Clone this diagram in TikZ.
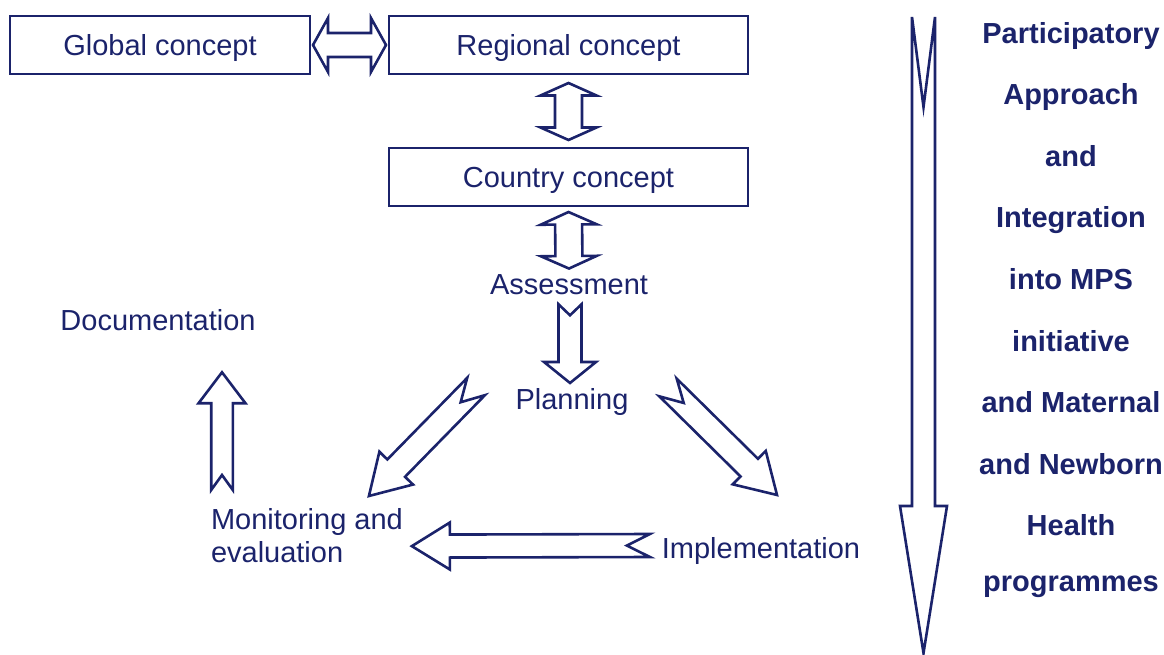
\documentclass[tikz,border=0pt]{standalone}
\usepackage{fontspec}
\setmainfont{Liberation Sans}
\usepackage{tikz}
\usetikzlibrary{calc,positioning}
\definecolor{navy}{RGB}{27,35,107}
\tikzset{concept/.style={draw=navy,text=navy,line width=2.6pt,minimum height=58pt,text depth=0pt,inner sep=0pt,outer sep=0pt}}
\tikzset{stage/.style={text=navy,inner sep=0pt,outer sep=0pt}}
% block arrow: shaft half width, head half width, head length, notch depth
\tikzset{fat/.style n args={4}{draw=navy,line width=2.6pt,line join=miter,
  to path={let \p1=(\tikztostart),\p2=(\tikztotarget),
    \n1={atan2(\y2-\y1,\x2-\x1)},\n2={veclen(\x2-\x1,\y2-\y1)} in
    ($(\p1)+(\n1+90:#1pt)$) -- ($(\p1)+(\n1:#4pt)$) -- ($(\p1)+(\n1-90:#1pt)$)
    -- ($(\p1)+(\n1:\n2-#3pt)+(\n1-90:#1pt)$) -- ($(\p1)+(\n1:\n2-#3pt)+(\n1-90:#2pt)$)
    -- (\p2) -- ($(\p1)+(\n1:\n2-#3pt)+(\n1+90:#2pt)$)
    -- ($(\p1)+(\n1:\n2-#3pt)+(\n1+90:#1pt)$) -- cycle}}}
% double headed block arrow: shaft half width, head half width, head length
\tikzset{twoway/.style n args={3}{draw=navy,line width=2.6pt,line join=miter,
  to path={let \p1=(\tikztostart),\p2=(\tikztotarget),
    \n1={atan2(\y2-\y1,\x2-\x1)},\n2={veclen(\x2-\x1,\y2-\y1)} in
    (\p1) -- ($(\p1)+(\n1:#3pt)+(\n1+90:#2pt)$) -- ($(\p1)+(\n1:#3pt)+(\n1+90:#1pt)$)
    -- ($(\p1)+(\n1:\n2-#3pt)+(\n1+90:#1pt)$) -- ($(\p1)+(\n1:\n2-#3pt)+(\n1+90:#2pt)$)
    -- (\p2) -- ($(\p1)+(\n1:\n2-#3pt)+(\n1-90:#2pt)$) -- ($(\p1)+(\n1:\n2-#3pt)+(\n1-90:#1pt)$)
    -- ($(\p1)+(\n1:#3pt)+(\n1-90:#1pt)$) -- ($(\p1)+(\n1:#3pt)+(\n1-90:#2pt)$) -- cycle}}}

\begin{document}
\begin{tikzpicture}[x=1pt,y=-1pt,font=\fontsize{29}{33}\selectfont]
    \useasboundingbox (0,0) rectangle (1164,655);
    % concept boxes
    \node[concept,minimum width=300pt] (global) at (160,45) {Global concept};
    \node[concept,minimum width=359pt,right=79pt of global] (regional) {Regional concept};
    \node[concept,minimum width=359pt,below=74pt of regional] (country) {Country concept};
        \draw[twoway={12}{27}{15}] ([xshift=3pt]global.east) to ([xshift=-3pt]regional.west);
        \draw[twoway={13.5}{28}{12.5}] ([yshift=-9pt]regional.south) to ([yshift=8pt]country.north);
    % cycle
    \node[stage,anchor=base] (assessment) at (569,294.5) {Assessment};
    \node[stage,anchor=base] (planning) at (572,409) {Planning};
    \node[stage,anchor=base] (implementation) at (761,558) {Implementation};
    \node[stage,anchor=north west,align=left] (monitoring) at (211,508) {Monitoring and\\evaluation};
    \node[stage,anchor=base] (documentation) at (158,330.5) {Documentation};
        \draw[twoway={13.5}{28}{12.5}] ([yshift=-6pt]country.south) to ([yshift=6pt]assessment.north);
        \draw[fat={11.5}{26}{21}{11}] ([shift={(1,9.5)}]assessment.south) to ([shift={(-2,-5)}]planning.north);
        \draw[fat={12.4}{23.5}{39}{22}] ([shift={(-39.5,-15)}]planning.west) to ([shift={(62,-12)}]monitoring.north);
        \draw[fat={12.4}{23.5}{39}{22}] ([shift={(39.6,-14)}]planning.east) to ([shift={(16,-42)}]implementation.north);
        \draw[fat={11.5}{23.5}{38}{23}] ([shift={(-12,-5)}]implementation.west) to ([shift={(9,11)}]monitoring.east);
        \draw[fat={10.8}{23.5}{31}{15}] ([shift={(11,-18)}]monitoring.north west) to ([shift={(64,41.5)}]documentation.south);
    % approach on the right
    \coordinate (flowtop) at (923.5,17);
    \coordinate (flowtip) at (923.5,653);
        \draw[fat={11.5}{23.5}{147}{90}] (flowtop) to (flowtip);
    \node[stage,anchor=north,align=center,font=\bfseries\fontsize{29}{61.6}\selectfont] (approach) at (1071,22)
        {Participatory\\Approach\\and\\Integration\\into MPS\\initiative\\and Maternal\\and Newborn\\Health\\[-6pt]programmes};
\end{tikzpicture}
\end{document}
